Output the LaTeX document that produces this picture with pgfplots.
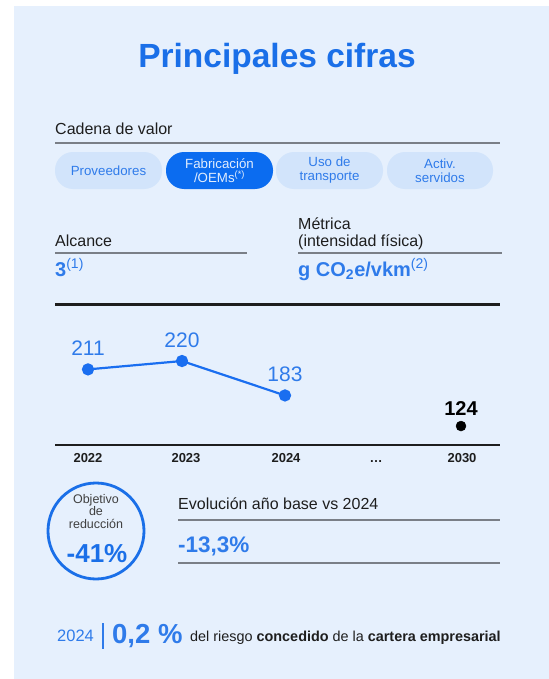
\documentclass[border=0pt]{standalone}
\usepackage{pgfplots}
\pgfplotsset{compat=1.18}
\usepackage{fontspec}
\setmainfont{Liberation Sans}

\definecolor{panel}{HTML}{E6F0FD}
\definecolor{pill}{HTML}{D2E4FB}
\definecolor{pillsel}{HTML}{0B6CF0}
\definecolor{titleblue}{HTML}{1A6FE8}
\definecolor{textblue}{HTML}{2F7BEA}
\definecolor{lineblue}{HTML}{1A6EF0}
\definecolor{graycol}{HTML}{7A7F87}
\definecolor{dark}{HTML}{1E1E1E}

\newcommand{\fs}[2]{\fontsize{#1bp}{#2bp}\selectfont}

\begin{document}
\begin{tikzpicture}
\begin{scope}[x=1bp,y=-1bp]
% background panel
\fill[white] (0,0) rectangle (549,679);
\fill[panel] (14,6) rectangle (549,679);

% title
\node[anchor=base, inner sep=0, text=titleblue, font=\bfseries\fs{33.5}{38}] at (277,67) {Principales cifras};

% value chain
\node[anchor=base west, inner sep=0, text=dark, font=\fs{16}{19}] at (55,134) {Cadena de valor};
\draw[graycol, line width=1.5bp] (55,143) -- (500,143);

\fill[pill, rounded corners=18bp] (55,152) rectangle (162,189);
\node[align=center, text=textblue, font=\fs{13.3}{14}] at (108.5,170.5) {Proveedores};
\fill[pillsel, rounded corners=18bp] (166,152) rectangle (273,189);
\node[align=center, text=white!88!pillsel, font=\fs{13.3}{14}] at (219.5,170.5) {Fabricación\\/OEMs\textsuperscript{(*)}};
\fill[pill, rounded corners=18bp] (276,152) rectangle (383,189);
\node[align=center, text=textblue, font=\fs{13.3}{14}] at (329.5,170.5) {Uso de\\transporte};
\fill[pill, rounded corners=18bp] (387,152) rectangle (493,189);
\node[align=center, text=textblue, font=\fs{13.3}{14}] at (440,170.5) {Activ.\\servidos};

% scope and metric
\node[anchor=base west, inner sep=0, text=dark, font=\fs{16}{19}] at (55,246) {Alcance};
\draw[graycol, line width=1.2bp] (55,253) -- (247,253);
\node[anchor=base west, inner sep=0, text=textblue, font=\bfseries\fs{20}{22}] at (55,276) {3\textsuperscript{\mdseries(1)}};
\node[anchor=base west, inner sep=0, text=dark, font=\fs{16}{19}] at (298,229) {Métrica};
\node[anchor=base west, inner sep=0, text=dark, font=\fs{16}{19}] at (298,246) {(intensidad física)};
\draw[graycol, line width=1.2bp] (298,253) -- (502,253);
\node[anchor=base west, inner sep=0, text=textblue, font=\bfseries\fs{20}{22}] at (298,276) {g CO\textsubscript{2}e/vkm\textsuperscript{\mdseries(2)}};

\draw[dark, line width=3bp] (55,304) -- (500,304);

% reduction target
\draw[titleblue, line width=2.8bp] (96,531) circle (48);
\node[anchor=base, inner sep=0, text=dark!85, font=\fs{12.5}{14}] at (96,503) {Objetivo};
\node[anchor=base, inner sep=0, text=dark!85, font=\fs{12.5}{14}] at (96,515) {de};
\node[anchor=base, inner sep=0, text=dark!85, font=\fs{12.5}{14}] at (96,528) {reducción};
\node[anchor=base, inner sep=0, text=titleblue, font=\bfseries\fs{26}{30}] at (97,562) {-41\%};

\node[anchor=base west, inner sep=0, text=dark, font=\fs{16}{19}] at (178,509) {Evolución año base vs 2024};
\draw[graycol, line width=1.2bp] (178,520) -- (500,520);
\node[anchor=base west, inner sep=0, text=textblue, font=\bfseries\fs{22.5}{24}] at (178,552) {-13,3\%};
\draw[graycol, line width=1.2bp] (178,563) -- (500,563);

% bottom line
\node[anchor=base west, inner sep=0, text=textblue, font=\fs{16.5}{18}] at (57,641) {2024};
\draw[textblue, line width=1.4bp] (103,623) -- (103,649);
\node[anchor=base west, inner sep=0, text=textblue, font=\bfseries\fs{27.5}{30}] at (112,643) {0,2 \%};
\node[anchor=base west, inner sep=0, text=dark, font=\fs{14.4}{16}] at (190,641) {del riesgo \textbf{concedido} de la \textbf{cartera empresarial}};
\end{scope}

% historical series
\begin{axis}[
    at={(55bp,-445bp)}, anchor=south west,
    scale only axis, width=445bp, height=125bp,
    xmin=55, xmax=500, ymin=129.7, ymax=264.1,
    clip=false,
    axis x line*=bottom, axis y line=none, ytick=\empty,
    x axis line style={-, line width=2.4bp, draw=dark},
    xtick={88,186,286,376,462},
    xticklabels={2022,2023,2024,\ldots,2030},
    major tick length=0pt,
    xticklabel style={font=\bfseries\fs{13}{15}, text=dark, anchor=base, yshift=-17bp, inner sep=0pt},
    /pgf/number format/assume math mode=true,
    nodes near coords align={anchor=base},
    every node near coord/.append style={font=\fs{21}{23}, text=textblue, yshift=13.5bp, inner sep=0pt},
]
\addplot[lineblue, line width=2.2bp, mark=*, mark size=5bp,
    mark options={solid, fill=lineblue, draw=lineblue}, nodes near coords]
    coordinates {(88,211) (182,220) (285,183)};
\end{axis}

% 2030 target
\begin{axis}[
    at={(55bp,-445bp)}, anchor=south west,
    scale only axis, width=445bp, height=125bp,
    xmin=55, xmax=500, ymin=100, ymax=258.2,
    clip=false, hide axis,
    /pgf/number format/assume math mode=true,
    nodes near coords align={anchor=base},
    every node near coord/.append style={font=\bfseries\fs{20}{22}, text=black, yshift=11bp, inner sep=0pt},
]
\addplot[black, only marks, mark=*, mark size=5bp, nodes near coords]
    coordinates {(461,124)};
\end{axis}

\pgfresetboundingbox
\path (0bp,0bp) rectangle (549bp,-679bp);
\end{tikzpicture}
\end{document}
